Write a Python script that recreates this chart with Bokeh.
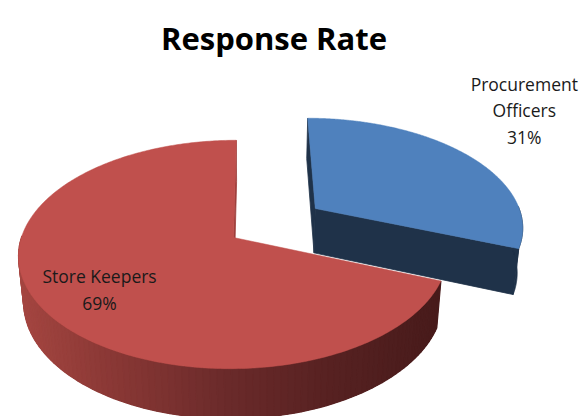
import numpy as np
from bokeh.plotting import figure
from bokeh.models import Range1d
from bokeh.embed import file_html
from bokeh.resources import INLINE
from bokeh.core.properties import value

# ---------------- data ----------------
title_text = "Response Rate"
categories = ["Procurement Officers", "Store Keepers"]
label_lines = [["Procurement", "Officers"], ["Store Keepers"]]
values = [31, 69]
top_colors = ["#4f81bd", "#c0504d"]
side_colors = ["#1f3249", "#9e403d"]
explode = [0.48, 0.0]

# ---------------- 3D camera / layout ----------------
W, H = 584, 416
ELEV = np.radians(30.5)
S, C = np.sin(ELEV), np.cos(ELEV)
D = 5.79            # camera distance (in pie radii)
FX, FY = 1228.0, 1274.0
X0 = 0.10           # lateral camera offset
CX, CY = 233.0, 237.0
THICK = 0.245
SX0 = CX + FX * X0 / D
CAM = np.array([X0, -D * C, D * S])


def proj(x, y, z):
    x = np.asarray(x, float)
    y = np.asarray(y, float)
    z = np.asarray(z, float) + 0 * x
    depth = D + y * C - z * S
    sx = SX0 + FX * (x - X0) / depth
    sy = CY - FY * (y * S + z * C) / depth
    return sx, sy


total = float(sum(values))
starts, ends = [], []
acc = 0.0
for v in values:
    a0 = 90.0 - 360.0 * acc / total
    acc += v
    a1 = 90.0 - 360.0 * acc / total
    starts.append(a0)
    ends.append(a1)

p = figure(width=W, height=H, x_range=Range1d(0, W), y_range=Range1d(H, 0),
           output_backend="svg", toolbar_location=None, min_border=0,
           x_axis_type=None, y_axis_type=None)
p.grid.visible = False
p.outline_line_color = None
p.background_fill_color = "white"
p.border_fill_color = "white"

# gradient stops for the red rim (fraction across, rgb)
grad_t = [0.0, 0.2, 0.5, 0.75, 1.0]
grad_rgb = [(165, 70, 65), (140, 57, 54), (106, 42, 42), (86, 33, 33), (72, 27, 27)]


def grad_color(t):
    t = min(max(t, 0.0), 1.0)
    r = np.interp(t, grad_t, [c[0] for c in grad_rgb])
    g = np.interp(t, grad_t, [c[1] for c in grad_rgb])
    b = np.interp(t, grad_t, [c[2] for c in grad_rgb])
    return "#%02x%02x%02x" % (int(round(r)), int(round(g)), int(round(b)))


# order back to front: larger offset toward back first
order = sorted(range(len(values)),
               key=lambda i: -explode[i] * np.sin(np.radians((starts[i] + ends[i]) / 2)))

label_anchor = {}
for i in order:
    a0, a1 = starts[i], ends[i]
    mid = np.radians((a0 + a1) / 2)
    ox, oy = explode[i] * np.cos(mid), explode[i] * np.sin(mid)

    # cut faces
    for ang, nang in ((a0, a0 + 90.0), (a1, a1 - 90.0)):
        r = np.radians(ang)
        nr = np.radians(nang)
        px, py = ox + 0.5 * np.cos(r), oy + 0.5 * np.sin(r)
        n = np.array([np.cos(nr), np.sin(nr), 0.0])
        if np.dot(CAM - np.array([px, py, 0.0]), n) > 0:
            fx = [ox, ox + np.cos(r), ox + np.cos(r), ox]
            fy = [oy, oy + np.sin(r), oy + np.sin(r), oy]
            fz = [0, 0, -THICK, -THICK]
            sx, sy = proj(fx, fy, fz)
            p.patch(list(sx), list(sy), fill_color=side_colors[i],
                    line_color=side_colors[i], line_width=0.8)

    # rim (front-facing part)
    angs = np.linspace(a1, a0, 600)
    angs = angs[np.sin(np.radians(angs)) <= 0.02]
    if len(angs) > 1:
        ax = ox + np.cos(np.radians(angs))
        ay = oy + np.sin(np.radians(angs))
        tx, ty = proj(ax, ay, 0.0)
        bx, by = proj(ax, ay, -THICK)
        xmin, xmax = tx.min(), tx.max()
        if i == 1:
            # base layer so antialias seams between strips do not show through
            p.patch(list(tx) + list(bx[::-1]), list(ty) + list(by[::-1]),
                    fill_color=grad_color(0.5), line_color=None)
            step = 4
            xs, ys, cols = [], [], []
            for k in range(0, len(angs) - 1, step):
                k2 = min(k + step, len(angs) - 1)
                xs.append([tx[k], tx[k2], bx[k2], bx[k]])
                ys.append([ty[k], ty[k2], by[k2], by[k]])
                t = ((tx[k] + tx[k2]) / 2 - xmin) / max(xmax - xmin, 1)
                cols.append(grad_color(t))
            p.patches(xs, ys, fill_color=cols, line_color=cols, line_width=1.2)
        else:
            p.patch(list(tx) + list(bx[::-1]), list(ty) + list(by[::-1]),
                    fill_color=side_colors[i], line_color=side_colors[i], line_width=0.8)

    # top surface
    arc = np.linspace(a0, a1, 300)
    px_ = np.concatenate([[ox], ox + np.cos(np.radians(arc))])
    py_ = np.concatenate([[oy], oy + np.sin(np.radians(arc))])
    sx, sy = proj(px_, py_, 0.0)
    p.patch(list(sx), list(sy), fill_color=top_colors[i], line_color=top_colors[i],
            line_width=0.5)

    label_anchor[i] = (mid, ox, oy)

# ---------------- data labels ----------------
LABEL_R = [1.25, 0.6]
LABEL_SHIFT = [(23.0, -59.0), (-22.0, -1.0)]
LINE_GAP = 26.5
lx, ly, lt = [], [], []
for i in range(len(values)):
    mid, ox, oy = label_anchor[i]
    r = LABEL_R[i]
    wx = ox + r * np.cos(mid)
    wy = oy + r * np.sin(mid)
    sx, sy = proj(wx, wy, 0.0)
    bx = float(sx) + LABEL_SHIFT[i][0]
    by = float(sy) + LABEL_SHIFT[i][1]
    lines = label_lines[i] + ["%d%%" % values[i]]
    for j, s in enumerate(lines):
        lx.append(bx)
        ly.append(by + j * LINE_GAP)
        lt.append(s)

p.text(x=lx, y=ly, text=lt, text_font=value("Open Sans"), text_font_size=value("17.5px"),
       text_align="center", text_baseline="alphabetic", text_color="#1a1a1a")

# ---------------- title ----------------
p.text(x=[W / 2 - 18.5], y=[37], text=[title_text], text_font=value("Open Sans"),
       text_font_size=value("31px"), text_font_style="bold", text_align="center",
       text_baseline="alphabetic", text_color="#000000")

open("out.html", "w").write(file_html(p, INLINE))
